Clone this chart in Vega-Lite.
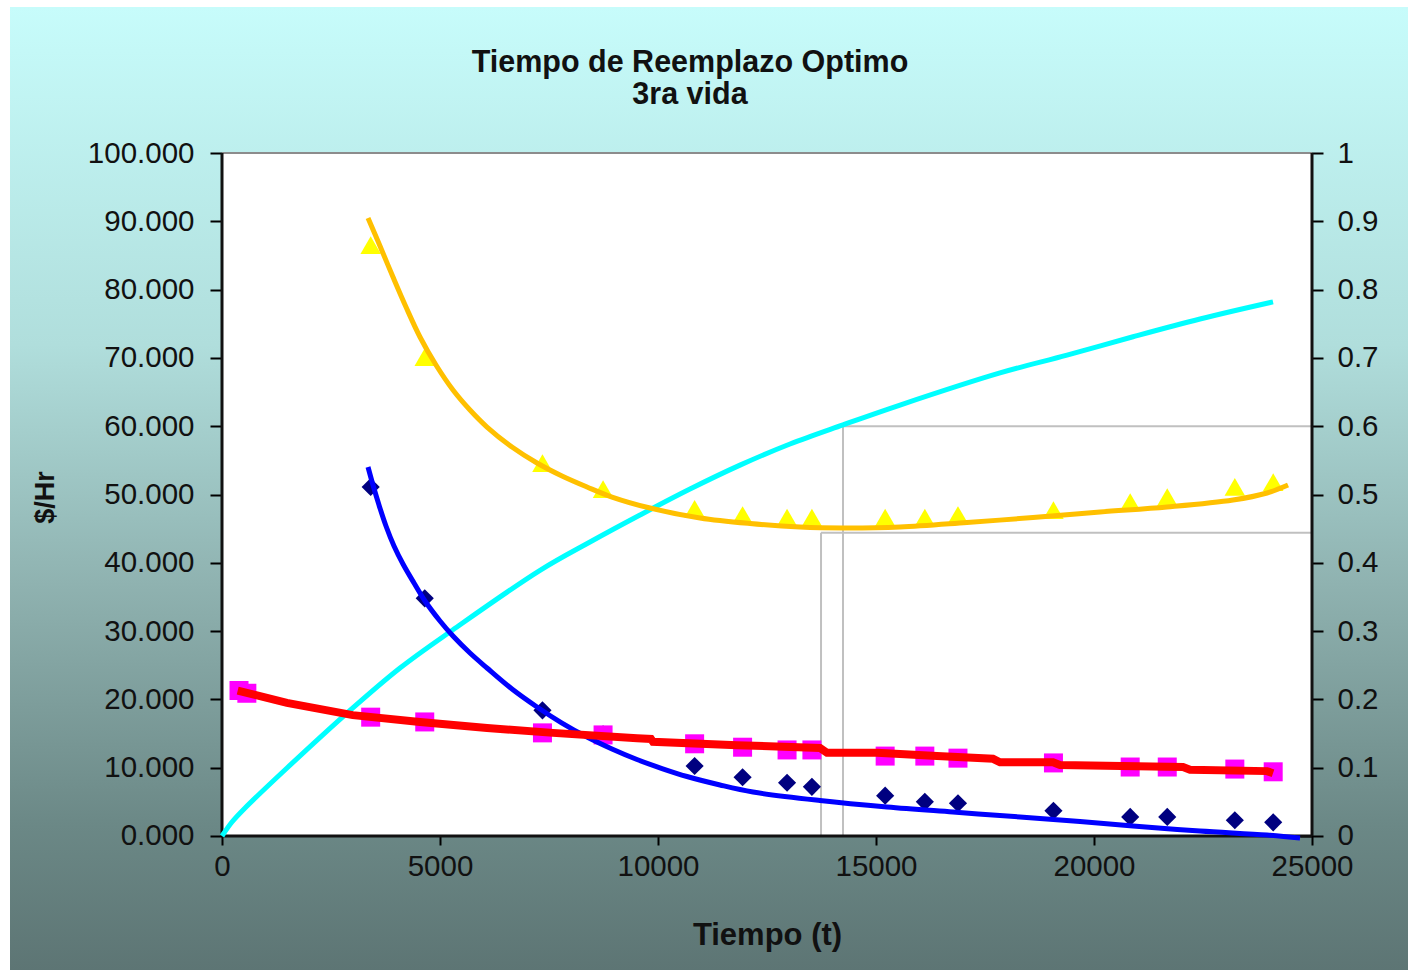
{
  "$schema": "https://vega.github.io/schema/vega-lite/v6.json",
  "autosize": {"type": "none"},
  "width": 1398,
  "height": 963,
  "padding": {"left": 10, "top": 7, "right": 0, "bottom": 0},
  "background": "#ffffff",
  "config": {
    "font": "Liberation Sans",
    "view": {"stroke": null},
    "axisX": {
      "domain": false, "grid": false,
      "tickSize": 9, "tickWidth": 2, "tickColor": "#000000",
      "labelFontSize": 29.5, "labelColor": "#111111", "labelPadding": 7,
      "labelFlush": false, "labelOverlap": false,
      "titleFontSize": 31, "titleFontWeight": "bold", "titleColor": "#111111",
      "titleBaseline": "alphabetic", "titleAlign": "center"
    }
  },
  "view": {
    "stroke": null,
    "fill": {
      "gradient": "linear", "x1": 0, "y1": 0, "x2": 0, "y2": 1,
      "stops": [
        {"offset": 0, "color": "#C7FCFB"},
        {"offset": 0.35, "color": "#B0DEDC"},
        {"offset": 0.6, "color": "#8FB2B0"},
        {"offset": 0.85, "color": "#6B8886"},
        {"offset": 1, "color": "#5D7574"}
      ]
    }
  },
  "title": {
    "text": ["Tiempo de Reemplazo Optimo", "3ra vida"],
    "fontSize": 30.5,
    "fontWeight": "bold",
    "color": "#111111",
    "anchor": "middle",
    "dx": -19,
    "offset": -103,
    "lineHeight": 32
  },
  "datasets": {
    "marcadores": [
      {"t": 390, "total": null, "c1": null, "c2": 21.3},
      {"t": 570, "total": null, "c1": null, "c2": 20.9},
      {"t": 3410, "total": 86.5, "c1": 51.1, "c2": 17.4},
      {"t": 4650, "total": 70.1, "c1": 34.8, "c2": 16.7},
      {"t": 7350, "total": 54.6, "c1": 18.4, "c2": 15.1},
      {"t": 8740, "total": 50.8, "c1": 14.9, "c2": 14.8},
      {"t": 10840, "total": 47.9, "c1": 10.25, "c2": 13.5},
      {"t": 11940, "total": 47.0, "c1": 8.6, "c2": 13.0},
      {"t": 12960, "total": 46.6, "c1": 7.8, "c2": 12.6},
      {"t": 13530, "total": 46.6, "c1": 7.2, "c2": 12.6},
      {"t": 15210, "total": 46.6, "c1": 5.9, "c2": 11.7},
      {"t": 16120, "total": 46.6, "c1": 5.0, "c2": 11.7},
      {"t": 16880, "total": 47.0, "c1": 4.8, "c2": 11.4},
      {"t": 19070, "total": 47.7, "c1": 3.7, "c2": 10.7},
      {"t": 20830, "total": 48.9, "c1": 2.8, "c2": 10.1},
      {"t": 21680, "total": 49.6, "c1": 2.8, "c2": 10.1},
      {"t": 23230, "total": 51.1, "c1": 2.3, "c2": 9.8},
      {"t": 24110, "total": 51.8, "c1": 2.0, "c2": 9.4}
    ],
    "ajuste_total": [
      {"t": 3349, "v": 90.48}, {"t": 3624, "v": 86.38}, {"t": 3922, "v": 81.84},
      {"t": 4220, "v": 77.45}, {"t": 4541, "v": 73.06}, {"t": 4908, "v": 68.96},
      {"t": 5298, "v": 65.30}, {"t": 5688, "v": 62.37}, {"t": 6078, "v": 59.88},
      {"t": 6651, "v": 56.95}, {"t": 7225, "v": 54.61}, {"t": 7798, "v": 52.71},
      {"t": 8372, "v": 51.10}, {"t": 8945, "v": 49.63}, {"t": 9817, "v": 48.02},
      {"t": 10963, "v": 46.56}, {"t": 12110, "v": 45.75}, {"t": 13257, "v": 45.24},
      {"t": 14243, "v": 45.10}, {"t": 15551, "v": 45.24}, {"t": 17087, "v": 45.90},
      {"t": 18601, "v": 46.63}, {"t": 20138, "v": 47.44}, {"t": 21674, "v": 48.17},
      {"t": 23188, "v": 49.19}, {"t": 23968, "v": 50.22}, {"t": 24450, "v": 51.39}
    ],
    "ajuste_c1": [
      {"t": 3349, "v": 54.03}, {"t": 3463, "v": 51.39}, {"t": 3601, "v": 48.46},
      {"t": 3761, "v": 45.39}, {"t": 3945, "v": 42.46}, {"t": 4151, "v": 39.82},
      {"t": 4404, "v": 37.04}, {"t": 4656, "v": 34.41}, {"t": 5000, "v": 31.48},
      {"t": 5298, "v": 29.28}, {"t": 5688, "v": 26.79}, {"t": 6078, "v": 24.60},
      {"t": 6651, "v": 21.52}, {"t": 7225, "v": 18.89}, {"t": 7798, "v": 16.54},
      {"t": 8372, "v": 14.49}, {"t": 8945, "v": 12.74}, {"t": 9518, "v": 11.20},
      {"t": 10092, "v": 9.88}, {"t": 10665, "v": 8.71}, {"t": 11422, "v": 7.47},
      {"t": 12179, "v": 6.44}, {"t": 13716, "v": 5.20}, {"t": 15252, "v": 4.25},
      {"t": 16766, "v": 3.51}, {"t": 18303, "v": 2.78}, {"t": 19679, "v": 2.12},
      {"t": 20895, "v": 1.46}, {"t": 22431, "v": 0.73}, {"t": 23968, "v": 0.15},
      {"t": 24725, "v": -0.29}
    ],
    "ajuste_c2": [
      {"t": 360, "v": 21.3}, {"t": 1490, "v": 19.5}, {"t": 3000, "v": 17.7},
      {"t": 4540, "v": 16.7}, {"t": 6080, "v": 15.8}, {"t": 7590, "v": 15.1},
      {"t": 9520, "v": 14.3}, {"t": 9840, "v": 14.2}, {"t": 9885, "v": 13.8},
      {"t": 11812, "v": 13.3}, {"t": 13716, "v": 12.9}, {"t": 13876, "v": 12.2},
      {"t": 15023, "v": 12.2}, {"t": 16399, "v": 11.7}, {"t": 17684, "v": 11.3},
      {"t": 17844, "v": 10.8}, {"t": 19060, "v": 10.8}, {"t": 19220, "v": 10.4},
      {"t": 22041, "v": 10.1}, {"t": 22202, "v": 9.7}, {"t": 23968, "v": 9.5},
      {"t": 24106, "v": 9.2}
    ],
    "probabilidad": [
      {"t": 0, "p": 0}, {"t": 229, "p": 0.0205}, {"t": 528, "p": 0.041},
      {"t": 1491, "p": 0.0996}, {"t": 2867, "p": 0.180}, {"t": 4083, "p": 0.246},
      {"t": 5298, "p": 0.302}, {"t": 7294, "p": 0.389}, {"t": 8440, "p": 0.4305},
      {"t": 9587, "p": 0.470}, {"t": 10734, "p": 0.508}, {"t": 11881, "p": 0.543},
      {"t": 13028, "p": 0.574}, {"t": 14243, "p": 0.602}, {"t": 15551, "p": 0.631},
      {"t": 17844, "p": 0.678}, {"t": 19381, "p": 0.704}, {"t": 20895, "p": 0.731},
      {"t": 22431, "p": 0.757}, {"t": 24106, "p": 0.782}
    ],
    "guia_v": [
      {"t": 14243, "v0": 0, "v1": 60},
      {"t": 13739, "v0": 0, "v1": 44.4}
    ],
    "guia_h": [
      {"t": 14243, "t2": 25000, "v": 60},
      {"t": 13739, "t2": 25000, "v": 44.4}
    ]
  },
  "layer": [
    {
      "data": {"values": [{}]},
      "mark": {"type": "rect", "fill": "#ffffff"},
      "encoding": {
        "x": {"datum": 0, "type": "quantitative", "scale": {"domain": [-4862.4, 27201.8], "nice": false, "zero": false},
              "axis": {"orient": "bottom", "offset": -134, "values": [0, 5000, 10000, 15000, 20000, 25000], "format": "d", "title": "Tiempo (t)", "titleX": 757, "titleY": 108}},
        "x2": {"datum": 25000},
        "y": {"datum": 0, "type": "quantitative", "scale": {"domain": [-19.62, 121.38], "nice": false, "zero": false}, "axis": null},
        "y2": {"datum": 100}
      }
    },
    {
      "data": {"name": "guia_v"},
      "mark": {"type": "rule", "color": "#C0C0C0", "strokeWidth": 2},
      "encoding": {
        "x": {"field": "t", "type": "quantitative", "scale": {"domain": [-4862.4, 27201.8], "nice": false, "zero": false},
              "axis": {"orient": "bottom", "offset": -134, "values": [0, 5000, 10000, 15000, 20000, 25000], "format": "d", "title": "Tiempo (t)", "titleX": 757, "titleY": 108}},
        "y": {
          "field": "v0", "type": "quantitative",
          "scale": {"domain": [-19.62, 121.38], "nice": false, "zero": false},
          "axis": {
            "orient": "left", "offset": -212,
            "values": [0, 10, 20, 30, 40, 50, 60, 70, 80, 90, 100],
            "format": ".3f", "domain": false, "grid": false,
            "tickSize": 12, "tickWidth": 2, "tickColor": "#000000",
            "labelFontSize": 29.5, "labelColor": "#111111", "labelPadding": 16,
            "labelFlush": false, "labelOverlap": false,
            "title": "$/Hr", "titleFontSize": 27, "titleFontWeight": "bold",
            "titleColor": "#111111", "titleAngle": -90, "titleX": -177, "titleY": 490,
            "titleBaseline": "middle", "titleAlign": "center"
          }
        },
        "y2": {"field": "v1"}
      }
    },
    {
      "data": {"name": "guia_h"},
      "mark": {"type": "rule", "color": "#C0C0C0", "strokeWidth": 2},
      "encoding": {
        "x": {"field": "t", "type": "quantitative", "scale": {"domain": [-4862.4, 27201.8], "nice": false, "zero": false},
              "axis": {"orient": "bottom", "offset": -134, "values": [0, 5000, 10000, 15000, 20000, 25000], "format": "d", "title": "Tiempo (t)", "titleX": 757, "titleY": 108}},
        "x2": {"field": "t2"},
        "y": {"field": "v", "type": "quantitative", "scale": {"domain": [-19.62, 121.38], "nice": false, "zero": false}, "axis": null}
      }
    },
    {
      "data": {"values": [{}]},
      "mark": {"type": "rule", "color": "#8C8C8C", "strokeWidth": 2},
      "encoding": {
        "x": {"datum": 0, "type": "quantitative", "scale": {"domain": [-4862.4, 27201.8], "nice": false, "zero": false},
              "axis": {"orient": "bottom", "offset": -134, "values": [0, 5000, 10000, 15000, 20000, 25000], "format": "d", "title": "Tiempo (t)", "titleX": 757, "titleY": 108}},
        "x2": {"datum": 25000},
        "y": {"datum": 100, "type": "quantitative", "scale": {"domain": [-19.62, 121.38], "nice": false, "zero": false}, "axis": null}
      }
    },
    {
      "data": {"values": [{}]},
      "mark": {"type": "rule", "color": "#111111", "strokeWidth": 3},
      "encoding": {
        "x": {"datum": 0, "type": "quantitative", "scale": {"domain": [-4862.4, 27201.8], "nice": false, "zero": false},
              "axis": {"orient": "bottom", "offset": -134, "values": [0, 5000, 10000, 15000, 20000, 25000], "format": "d", "title": "Tiempo (t)", "titleX": 757, "titleY": 108}},
        "y": {"datum": 0, "type": "quantitative", "scale": {"domain": [-19.62, 121.38], "nice": false, "zero": false}, "axis": null},
        "y2": {"datum": 100}
      }
    },
    {
      "data": {"values": [{}]},
      "mark": {"type": "rule", "color": "#111111", "strokeWidth": 3},
      "encoding": {
        "x": {"datum": 25000, "type": "quantitative", "scale": {"domain": [-4862.4, 27201.8], "nice": false, "zero": false},
              "axis": {"orient": "bottom", "offset": -134, "values": [0, 5000, 10000, 15000, 20000, 25000], "format": "d", "title": "Tiempo (t)", "titleX": 757, "titleY": 108}},
        "y": {"datum": 0, "type": "quantitative", "scale": {"domain": [-19.62, 121.38], "nice": false, "zero": false}, "axis": null},
        "y2": {"datum": 100}
      }
    },
    {
      "data": {"values": [{}]},
      "mark": {"type": "rule", "color": "#111111", "strokeWidth": 3},
      "encoding": {
        "x": {"datum": 0, "type": "quantitative", "scale": {"domain": [-4862.4, 27201.8], "nice": false, "zero": false},
              "axis": {"orient": "bottom", "offset": -134, "values": [0, 5000, 10000, 15000, 20000, 25000], "format": "d", "title": "Tiempo (t)", "titleX": 757, "titleY": 108}},
        "x2": {"datum": 25000},
        "y": {"datum": 0, "type": "quantitative", "scale": {"domain": [-19.62, 121.38], "nice": false, "zero": false}, "axis": null}
      }
    },
    {
      "data": {"name": "probabilidad"},
      "mark": {"type": "line", "color": "#00FFFF", "strokeWidth": 5, "interpolate": "catmull-rom"},
      "encoding": {
        "x": {"field": "t", "type": "quantitative", "scale": {"domain": [-4862.4, 27201.8], "nice": false, "zero": false},
              "axis": {"orient": "bottom", "offset": -134, "values": [0, 5000, 10000, 15000, 20000, 25000], "format": "d", "title": "Tiempo (t)", "titleX": 757, "titleY": 108}},
        "y": {
          "field": "p", "type": "quantitative",
          "scale": {"domain": [-0.1962, 1.2138], "nice": false, "zero": false},
          "axis": {
            "orient": "right", "offset": -108,
            "values": [0, 0.1, 0.2, 0.3, 0.4, 0.5, 0.6, 0.7, 0.8, 0.9, 1],
            "format": "~g", "domain": false, "grid": false,
            "tickSize": 23, "tickWidth": 2, "tickColor": "#000000",
            "labelFontSize": 29.5, "labelColor": "#111111", "labelPadding": 14,
            "labelFlush": false, "labelOverlap": false,
            "title": null
          }
        }
      }
    },
    {
      "data": {"name": "marcadores"},
      "mark": {"type": "point", "shape": "triangle-up", "filled": true, "color": "#FFFF00", "size": 420, "opacity": 1},
      "encoding": {
        "x": {"field": "t", "type": "quantitative", "scale": {"domain": [-4862.4, 27201.8], "nice": false, "zero": false},
              "axis": {"orient": "bottom", "offset": -134, "values": [0, 5000, 10000, 15000, 20000, 25000], "format": "d", "title": "Tiempo (t)", "titleX": 757, "titleY": 108}},
        "y": {"field": "total", "type": "quantitative", "scale": {"domain": [-19.62, 121.38], "nice": false, "zero": false}, "axis": null}
      }
    },
    {
      "data": {"name": "marcadores"},
      "mark": {"type": "point", "shape": "diamond", "filled": true, "color": "#000080", "size": 330, "opacity": 1},
      "encoding": {
        "x": {"field": "t", "type": "quantitative", "scale": {"domain": [-4862.4, 27201.8], "nice": false, "zero": false},
              "axis": {"orient": "bottom", "offset": -134, "values": [0, 5000, 10000, 15000, 20000, 25000], "format": "d", "title": "Tiempo (t)", "titleX": 757, "titleY": 108}},
        "y": {"field": "c1", "type": "quantitative", "scale": {"domain": [-19.62, 121.38], "nice": false, "zero": false}, "axis": null}
      }
    },
    {
      "data": {"name": "marcadores"},
      "mark": {"type": "point", "shape": "square", "filled": true, "color": "#FF00FF", "size": 361, "opacity": 1},
      "encoding": {
        "x": {"field": "t", "type": "quantitative", "scale": {"domain": [-4862.4, 27201.8], "nice": false, "zero": false},
              "axis": {"orient": "bottom", "offset": -134, "values": [0, 5000, 10000, 15000, 20000, 25000], "format": "d", "title": "Tiempo (t)", "titleX": 757, "titleY": 108}},
        "y": {"field": "c2", "type": "quantitative", "scale": {"domain": [-19.62, 121.38], "nice": false, "zero": false}, "axis": null}
      }
    },
    {
      "data": {"name": "ajuste_total"},
      "mark": {"type": "line", "color": "#FFC000", "strokeWidth": 5, "interpolate": "catmull-rom"},
      "encoding": {
        "x": {"field": "t", "type": "quantitative", "scale": {"domain": [-4862.4, 27201.8], "nice": false, "zero": false},
              "axis": {"orient": "bottom", "offset": -134, "values": [0, 5000, 10000, 15000, 20000, 25000], "format": "d", "title": "Tiempo (t)", "titleX": 757, "titleY": 108}},
        "y": {"field": "v", "type": "quantitative", "scale": {"domain": [-19.62, 121.38], "nice": false, "zero": false}, "axis": null}
      }
    },
    {
      "data": {"name": "ajuste_c1"},
      "mark": {"type": "line", "color": "#0000FF", "strokeWidth": 5, "interpolate": "catmull-rom"},
      "encoding": {
        "x": {"field": "t", "type": "quantitative", "scale": {"domain": [-4862.4, 27201.8], "nice": false, "zero": false},
              "axis": {"orient": "bottom", "offset": -134, "values": [0, 5000, 10000, 15000, 20000, 25000], "format": "d", "title": "Tiempo (t)", "titleX": 757, "titleY": 108}},
        "y": {"field": "v", "type": "quantitative", "scale": {"domain": [-19.62, 121.38], "nice": false, "zero": false}, "axis": null}
      }
    },
    {
      "data": {"name": "ajuste_c2"},
      "mark": {"type": "line", "color": "#FF0000", "strokeWidth": 8},
      "encoding": {
        "x": {"field": "t", "type": "quantitative", "scale": {"domain": [-4862.4, 27201.8], "nice": false, "zero": false},
              "axis": {"orient": "bottom", "offset": -134, "values": [0, 5000, 10000, 15000, 20000, 25000], "format": "d", "title": "Tiempo (t)", "titleX": 757, "titleY": 108}},
        "y": {"field": "v", "type": "quantitative", "scale": {"domain": [-19.62, 121.38], "nice": false, "zero": false}, "axis": null}
      }
    }
  ],
  "resolve": {"scale": {"y": "independent"}}
}
